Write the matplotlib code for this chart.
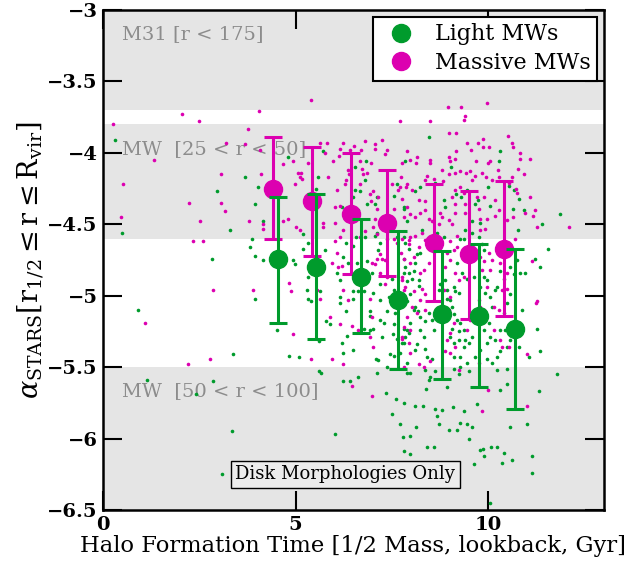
import matplotlib
matplotlib.use('Agg')
import matplotlib.pyplot as plt
import numpy as np
from matplotlib.lines import Line2D
from matplotlib.ticker import FuncFormatter

plt.rcParams['font.family'] = 'DejaVu Serif'
plt.rcParams['mathtext.fontset'] = 'dejavuserif'

GREEN = '#009b2c'
MAGENTA = '#dc00b0'

# binned means with (asymmetric) spread
light_t = [4.53, 5.53, 6.70, 7.66, 8.81, 9.77, 10.68]
light_mean = [-4.74, -4.80, -4.87, -5.03, -5.13, -5.14, -5.23]
light_hi = [-4.31, -4.29, -4.46, -4.55, -4.69, -4.64, -4.67]
light_lo = [-5.19, -5.30, -5.26, -5.51, -5.58, -5.64, -5.79]

massive_t = [4.42, 5.43, 6.44, 7.38, 8.58, 9.51, 10.42]
massive_mean = [-4.25, -4.34, -4.43, -4.49, -4.63, -4.71, -4.67]
massive_hi = [-3.89, -3.96, -4.00, -4.12, -4.22, -4.27, -4.20]
massive_lo = [-4.60, -4.72, -4.85, -4.86, -5.04, -5.16, -5.14]

# observational bands
band_lo = [-3.7, -4.6, -6.5]
band_hi = [-3.0, -3.8, -5.5]
band_labels = ['M31 [r < 175]', 'MW  [25 < r < 50]', 'MW  [50 < r < 100]']

# individual galaxies (formation time, alpha)
light_pts = [
    (0.31, -3.91), (0.49, -4.56), (2.96, -4.27), (3.30, -4.54), (3.69, -4.17), (3.95, -4.36),
    (4.03, -4.24), (4.16, -4.48), (3.87, -4.60), (3.95, -4.72), (2.83, -4.74), (4.81, -4.03),
    (3.82, -4.66), (4.94, -4.75), (5.20, -4.67), (0.91, -5.10), (1.14, -5.59), (2.86, -5.60),
    (2.42, -5.69), (3.38, -5.41), (3.35, -5.95), (3.09, -6.25), (3.95, -5.02), (4.52, -5.24),
    (4.83, -5.42), (5.09, -5.43), (5.30, -4.96), (5.40, -5.04), (5.61, -5.53),
    (5.59, -4.17), (5.53, -4.25), (5.72, -3.99), (6.83, -4.06), (6.54, -4.10), (6.80, -4.19),
    (6.53, -4.26), (6.67, -4.27), (6.48, -4.31), (6.20, -4.38), (6.42, -4.42), (6.85, -4.36),
    (6.62, -4.40), (7.11, -4.31), (7.06, -4.36), (7.54, -4.30), (7.63, -4.22), (7.84, -4.06),
    (7.41, -4.44), (7.80, -4.39), (7.28, -4.50), (7.12, -4.56),
    (8.45, -3.89), (8.10, -4.27), (8.23, -4.24), (8.84, -4.33), (8.88, -4.38), (8.62, -4.21),
    (9.03, -4.10), (9.17, -4.29), (9.30, -4.31), (9.45, -4.26), (9.66, -4.36), (9.72, -4.33),
    (9.98, -4.24), (10.05, -4.37), (10.31, -3.99), (10.29, -4.06), (10.53, -4.23), (10.66, -4.26),
    (10.79, -4.32), (10.64, -4.39), (10.92, -4.40), (10.76, -4.54), (11.39, -4.50), (11.85, -4.43),
    (9.79, -4.49), (9.58, -4.48), (9.40, -4.54), (9.27, -4.60), (8.84, -4.59), (8.67, -4.56),
    (8.27, -4.54), (7.80, -4.38), (7.89, -4.48), (11.56, -4.67),
    (4.16, -4.75), (5.20, -4.57), (5.33, -4.63), (4.99, -4.78), (5.76, -4.68), (5.33, -4.87),
    (5.31, -5.02), (5.62, -4.97), (5.78, -5.18), (5.90, -5.20), (5.61, -5.32),
    (6.07, -4.84), (6.14, -4.89), (6.16, -5.01), (6.14, -5.05), (6.31, -5.11), (6.33, -5.28),
    (6.24, -4.73), (6.37, -4.77), (6.31, -4.63), (6.50, -4.65), (6.56, -4.59), (6.59, -4.77),
    (6.50, -4.97), (6.48, -5.02), (6.63, -4.97), (6.78, -4.97), (6.80, -4.59), (6.85, -4.76),
    (6.98, -4.84), (7.00, -4.98), (6.92, -5.14), (6.94, -5.11), (7.02, -5.23), (6.78, -5.23),
    (6.92, -5.24), (6.48, -5.38), (6.20, -5.33), (6.22, -5.40), (7.09, -5.44), (7.15, -5.45),
    (7.12, -5.54), (7.37, -5.50), (7.19, -4.63), (7.15, -4.68), (7.06, -4.58), (7.19, -4.92),
    (7.18, -5.03), (7.19, -5.17), (7.28, -5.19), (7.24, -5.29), (7.37, -5.11), (7.41, -5.01),
    (7.54, -4.96), (7.50, -4.88), (7.58, -5.12), (7.54, -5.20), (7.52, -5.27), (7.63, -5.30),
    (7.76, -5.33), (7.80, -5.23), (7.71, -5.40), (7.45, -5.41), (7.54, -5.42), (7.80, -4.74),
    (7.84, -4.63), (7.80, -4.59), (7.37, -4.60), (7.63, -4.59), (7.89, -4.90), (7.82, -4.84),
    (7.89, -5.04), (7.89, -5.47),
    (7.93, -4.67), (7.84, -4.80), (7.93, -4.84), (8.06, -4.83), (8.02, -4.88), (8.15, -4.71),
    (8.23, -4.70), (8.10, -4.77), (8.19, -4.89), (8.21, -4.93), (7.97, -4.99), (8.06, -5.10),
    (8.10, -5.08), (8.23, -5.15), (8.36, -5.18), (8.17, -5.11), (7.97, -5.19), (7.89, -5.24),
    (7.84, -5.29), (7.80, -5.33), (7.93, -5.26), (8.23, -5.24), (8.32, -5.29), (8.15, -5.34),
    (8.36, -5.37), (8.10, -5.38), (8.41, -5.43), (8.54, -5.44), (8.36, -5.52), (8.62, -5.53),
    (8.49, -5.57), (8.58, -5.24), (8.54, -5.17), (8.45, -5.12), (8.71, -4.96), (8.75, -4.92),
    (8.88, -4.89), (8.93, -4.96), (8.93, -5.02), (9.01, -5.03), (9.06, -5.08), (9.10, -4.94),
    (9.14, -4.97), (9.23, -4.98), (9.10, -5.13), (9.19, -5.17), (9.27, -5.19), (9.36, -5.24),
    (9.23, -5.25), (9.06, -5.23), (9.01, -5.29), (9.10, -5.33), (9.23, -5.31), (9.40, -5.31),
    (9.36, -5.36), (9.49, -5.33), (9.58, -5.29), (9.27, -5.43), (9.10, -5.43), (9.45, -5.47),
    (9.27, -5.50), (9.10, -5.51), (9.49, -5.53), (9.23, -5.55), (9.19, -4.77), (9.32, -4.84),
    (9.45, -4.88), (9.36, -4.60), (9.58, -4.56), (9.75, -4.59), (9.84, -4.64), (9.88, -4.68),
    (9.62, -4.87), (9.88, -4.87), (9.97, -4.89), (9.79, -4.94), (9.92, -4.98), (10.05, -5.01),
    (10.18, -4.96), (10.22, -4.94), (10.10, -5.08), (10.01, -5.19), (9.88, -5.24), (10.05, -5.29),
    (10.18, -5.31), (10.31, -5.24), (9.97, -5.33), (9.79, -5.38), (9.97, -5.44), (10.10, -5.47),
    (10.22, -5.43), (10.31, -5.39), (10.49, -5.36), (10.57, -5.31), (10.44, -5.24), (10.40, -5.12),
    (10.49, -5.05), (10.57, -4.99), (10.31, -4.83), (10.40, -4.88), (10.57, -4.80), (10.66, -4.85),
    (10.74, -4.75), (10.83, -4.84), (10.87, -5.10), (10.79, -5.36), (11.05, -5.43), (10.96, -4.84),
    (11.22, -4.74), (11.35, -4.80), (11.26, -5.23), (11.35, -5.39), (11.78, -5.55), (10.49, -5.51),
    (10.22, -5.52), (9.66, -5.43), (7.89, -5.54), (7.97, -5.54),
    (5.65, -5.54), (6.24, -5.60), (6.40, -5.60), (6.63, -5.57), (6.03, -5.97), (7.34, -5.68),
    (7.61, -5.72), (7.82, -5.75), (8.10, -5.77), (8.30, -5.77), (7.50, -5.83), (7.70, -5.90),
    (8.13, -5.92), (7.78, -5.99), (7.97, -5.98), (7.80, -6.09), (7.96, -6.11), (8.41, -6.06),
    (8.60, -6.06), (8.45, -5.59), (8.39, -5.65), (8.62, -5.79), (8.67, -5.84), (8.71, -5.90),
    (8.80, -5.80), (8.93, -5.64), (8.97, -5.94), (9.08, -5.78), (9.19, -5.94), (9.26, -5.89),
    (9.36, -5.81), (9.45, -5.90), (9.49, -6.00), (9.58, -5.92), (9.71, -5.76), (9.79, -6.08),
    (9.86, -6.07), (9.90, -6.12), (9.64, -6.18), (10.08, -6.06), (10.23, -6.06), (10.42, -6.10),
    (10.36, -6.17), (10.61, -6.15), (10.31, -5.66), (10.48, -5.62), (10.57, -5.92), (11.00, -5.90),
    (11.13, -6.12), (11.13, -6.24), (11.31, -5.67), (10.05, -6.45),
]

massive_pts = [
    (0.26, -3.80), (2.05, -3.73), (2.49, -3.78), (4.05, -3.71), (3.77, -3.83), (5.40, -3.63),
    (1.33, -4.05), (0.52, -4.22), (2.24, -4.35), (2.52, -4.48), (0.47, -4.45), (2.34, -4.62),
    (2.60, -4.62), (3.06, -4.15), (3.05, -4.35), (3.17, -4.41), (3.19, -3.93), (3.69, -3.94),
    (3.79, -4.48), (4.16, -4.50), (4.16, -4.53), (4.68, -4.48), (4.81, -4.46), (4.94, -4.06),
    (4.68, -4.08), (4.99, -4.22), (5.07, -4.14), (5.11, -4.17), (5.00, -4.52), (5.10, -4.54),
    (4.83, -4.91), (4.87, -4.97), (1.09, -5.19), (2.20, -5.48), (2.78, -5.44), (2.85, -4.96),
    (3.90, -4.96), (4.94, -5.27), (5.40, -5.44),
    (4.08, -3.98), (5.64, -3.93), (5.81, -3.93), (5.77, -4.00), (6.24, -3.93), (6.14, -3.97),
    (6.12, -4.02), (6.42, -3.98), (6.52, -3.95), (6.69, -3.98), (6.80, -3.92), (7.06, -3.94),
    (7.06, -3.97), (7.24, -3.91), (7.37, -3.98), (7.32, -4.01), (7.71, -3.78), (7.76, -4.07),
    (7.74, -4.17), (7.87, -4.24), (7.65, -4.26), (5.33, -4.07), (5.14, -4.14), (5.16, -4.18),
    (5.84, -4.17), (5.96, -4.06), (6.35, -4.12), (6.38, -4.15), (6.31, -4.19), (6.07, -4.26),
    (6.29, -4.22), (6.72, -4.11), (6.66, -4.06), (6.76, -4.15), (6.67, -4.22), (6.95, -4.07),
    (6.85, -4.14), (6.93, -4.29), (7.00, -4.27), (7.15, -4.31), (7.11, -4.39), (6.95, -4.34),
    (7.50, -4.22), (7.71, -4.24), (7.76, -4.32), (7.54, -4.39), (7.80, -4.45), (6.03, -4.38),
    (6.14, -4.37), (5.70, -4.49), (5.72, -4.52), (6.02, -4.49), (6.24, -4.54), (4.10, -4.15),
    (7.06, -4.46), (7.02, -4.52),
    (7.89, -3.99), (8.95, -3.68), (9.30, -3.68), (9.97, -3.65), (9.39, -3.74), (9.38, -3.77),
    (8.48, -3.78), (8.99, -3.86), (9.15, -3.86), (8.15, -4.03), (8.13, -4.07), (7.97, -4.05),
    (8.49, -4.05), (8.49, -4.07), (8.97, -4.03), (9.01, -4.06), (9.13, -4.04), (9.17, -3.99),
    (9.46, -3.93), (9.56, -3.98), (9.73, -3.93), (9.86, -3.90), (9.86, -3.96), (10.01, -3.96),
    (9.69, -4.06), (9.98, -4.07), (10.05, -4.06), (10.50, -3.88), (10.62, -3.93), (10.64, -3.96),
    (10.81, -4.00), (10.81, -4.04), (11.07, -4.04), (10.76, -4.11), (10.92, -4.15), (10.24, -4.12),
    (10.10, -4.19), (10.27, -4.17), (9.95, -4.17), (9.84, -4.14), (9.66, -4.16), (9.58, -4.19),
    (9.53, -4.13), (9.43, -4.14), (9.27, -4.13), (9.14, -4.14), (8.99, -4.15), (8.80, -4.12),
    (8.58, -4.18), (8.41, -4.16), (8.36, -4.19), (8.82, -4.20), (7.89, -4.22), (8.02, -4.26),
    (8.19, -4.33), (8.36, -4.34), (7.89, -4.38), (7.97, -4.43), (8.10, -4.45), (8.23, -4.42),
    (8.36, -4.40), (8.45, -4.46), (8.54, -4.48), (8.75, -4.42), (8.80, -4.45), (8.71, -4.50),
    (8.97, -4.47), (9.06, -4.31), (9.14, -4.26), (9.27, -4.24), (9.36, -4.28), (9.14, -4.36),
    (9.40, -4.36), (9.40, -4.42), (9.71, -4.31), (9.75, -4.39), (9.88, -4.31), (9.79, -4.46),
    (9.97, -4.46), (9.92, -4.53), (9.79, -4.54), (10.18, -4.33), (10.29, -4.40), (10.18, -4.44),
    (10.48, -4.47), (10.53, -4.21), (10.61, -4.17), (10.64, -4.45), (10.74, -4.28), (10.72, -4.25),
    (10.96, -4.42), (11.16, -4.44), (11.22, -4.40), (11.09, -4.31), (11.26, -4.52), (12.09, -4.52),
    (9.14, -4.42), (9.06, -4.50),
    (5.55, -4.96), (5.62, -5.02), (5.94, -5.44), (5.90, -5.15), (6.16, -5.20), (6.03, -4.62),
    (6.07, -4.70), (5.94, -4.77), (6.11, -4.80), (6.20, -4.79), (6.22, -4.96), (6.37, -5.03),
    (6.46, -5.21), (6.61, -5.24), (6.92, -5.02), (6.92, -5.29), (6.98, -5.15), (7.00, -5.36),
    (6.23, -5.48), (6.16, -4.59), (6.66, -4.59), (6.80, -4.55), (7.11, -4.57), (6.98, -4.77),
    (7.06, -4.78), (7.11, -4.74), (7.19, -4.71), (7.24, -4.74), (7.32, -4.75), (7.19, -4.84),
    (7.32, -4.92), (7.37, -4.87), (7.73, -4.70), (7.76, -4.87), (7.84, -4.94), (7.97, -5.24),
    (7.76, -5.29), (7.82, -5.50), (7.63, -4.63), (7.56, -4.60), (7.93, -4.64), (7.93, -4.61),
    (7.76, -4.60), (7.97, -4.59), (8.10, -4.58), (8.28, -4.56), (8.36, -4.61), (8.19, -4.66),
    (8.06, -4.73), (7.97, -4.77), (7.80, -4.74), (7.76, -4.89), (7.80, -4.96), (8.06, -4.97),
    (8.23, -4.84), (8.32, -4.82), (8.45, -4.77), (8.28, -4.95), (8.36, -4.99), (8.23, -5.03),
    (8.36, -5.10), (8.15, -5.12), (8.02, -5.08), (7.89, -5.15), (7.80, -5.22), (7.76, -5.30),
    (7.93, -5.33), (7.97, -5.40), (8.19, -5.48), (8.32, -5.50), (8.49, -5.46), (8.84, -4.96),
    (8.88, -4.80), (9.01, -4.75), (8.93, -4.70), (9.10, -4.68), (9.19, -4.66), (9.01, -4.62),
    (9.19, -4.58), (9.14, -4.84), (9.23, -4.89), (9.36, -4.87), (9.01, -5.01), (8.97, -5.10),
    (9.10, -5.19), (9.01, -5.26), (8.93, -5.31), (9.14, -5.36), (9.01, -5.40), (8.88, -5.39),
    (9.45, -5.24), (9.53, -5.17), (9.62, -5.12), (9.75, -5.03), (9.79, -5.08), (9.88, -5.10),
    (9.97, -4.94), (10.05, -4.82), (10.10, -4.75), (10.01, -4.70), (9.88, -4.76), (9.84, -4.82),
    (9.79, -4.73), (10.31, -4.77), (10.49, -4.84), (10.35, -4.96), (10.49, -4.95), (10.14, -5.08),
    (10.27, -5.10), (10.14, -5.24), (10.31, -5.31), (10.35, -5.36), (10.53, -5.36), (10.70, -4.60),
    (11.13, -4.76), (11.26, -5.04), (9.75, -5.47), (9.23, -5.52),
    (6.46, -5.63), (6.98, -5.70), (9.84, -5.81), (11.00, -5.77), (9.99, -5.66), (11.25, -5.05),
    (11.00, -5.41),
]

light_x, light_y = np.array(light_pts).T
massive_x, massive_y = np.array(massive_pts).T

fig = plt.figure(figsize=(6.34, 5.74), dpi=100)
ax = fig.add_axes([0.1625, 0.1115, 0.790, 0.871])

for lo, hi in zip(band_lo, band_hi):
    ax.axhspan(lo, hi, color='#e5e5e5', lw=0, zorder=0)

band_text_y = [-3.17, -3.97, -5.67]
for lab, ty in zip(band_labels, band_text_y):
    ax.text(0.49, ty, lab, color='#8c8c8c', fontsize=14, va='center', zorder=1)

ax.plot(light_x, light_y, 'o', ms=2.6, color=GREEN, mec='none', zorder=2)
ax.plot(massive_x, massive_y, 'o', ms=2.6, color=MAGENTA, mec='none', zorder=2)

m_mean = np.array(massive_mean)
ax.errorbar(massive_t, m_mean, yerr=[m_mean - np.array(massive_lo), np.array(massive_hi) - m_mean],
            fmt='o', ms=13, color=MAGENTA, elinewidth=2.2, capsize=6.5, capthick=2.2, zorder=3)
l_mean = np.array(light_mean)
ax.errorbar(light_t, l_mean, yerr=[l_mean - np.array(light_lo), np.array(light_hi) - l_mean],
            fmt='o', ms=13, color=GREEN, elinewidth=2.2, capsize=6.5, capthick=2.2, zorder=4)

ax.text(6.29, -6.25, 'Disk Morphologies Only', ha='center', va='center', fontsize=13, zorder=5,
        bbox=dict(boxstyle='square,pad=0.25', fc='#ececec', ec='black', lw=1))

handles = [Line2D([], [], marker='o', ls='none', ms=13, color=GREEN),
           Line2D([], [], marker='o', ls='none', ms=13, color=MAGENTA)]
leg = ax.legend(handles, ['Light MWs', 'Massive MWs'], loc='upper right', fontsize=16,
                frameon=True, fancybox=False, framealpha=1, edgecolor='black',
                borderaxespad=0.3, handletextpad=0.5, borderpad=0.3, labelspacing=0.3)
leg.get_frame().set_linewidth(1.5)
leg.set_zorder(6)

ax.set_xlim(0, 13)
ax.set_ylim(-6.5, -3)
ax.set_xticks([0, 5, 10])
ax.set_yticks([-6.5, -6, -5.5, -5, -4.5, -4, -3.5, -3])
ax.yaxis.set_major_formatter(FuncFormatter(lambda v, p: ('%g' % v).replace('-', '\u2212')))
ax.tick_params(direction='in', length=14, width=1.5, top=True, right=True, labelsize=14, pad=4)
for lab in ax.get_xticklabels() + ax.get_yticklabels():
    lab.set_fontweight('bold')
for sp in ax.spines.values():
    sp.set_linewidth(1.8)

ax.set_xlabel('Halo Formation Time [1/2 Mass, lookback, Gyr]', fontsize=16.3, labelpad=1)
ax.set_ylabel(r'$\alpha_{\rm STARS}[{\rm r}_{1/2} \leq {\rm r} \leq {\rm R}_{\rm vir}]$', fontsize=19.5,
              labelpad=0)

fig.savefig('out.png', dpi=100)
